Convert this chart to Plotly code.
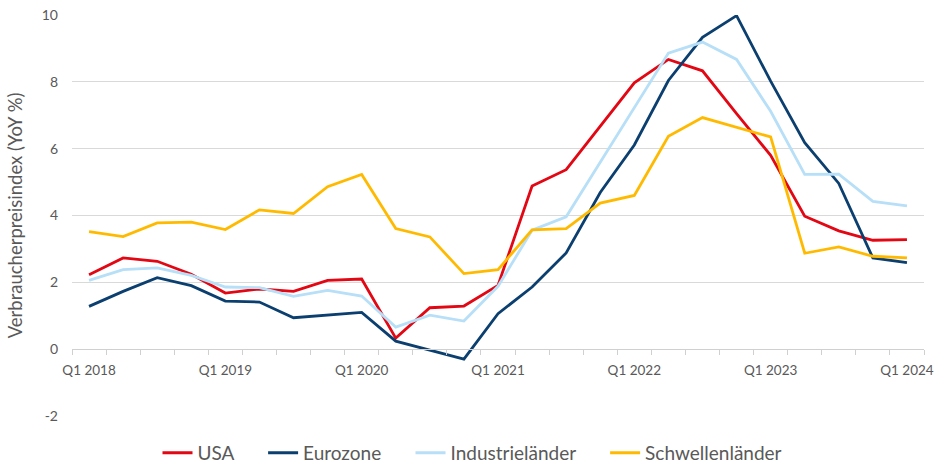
import plotly.graph_objects as go

categories = [f"Q{q} {y}" for y in range(2018, 2025) for q in range(1, 5)][:25]
tick_labels = ["Q1 2018", "Q1 2019", "Q1 2020", "Q1 2021", "Q1 2022", "Q1 2023", "Q1 2024"]
y_ticks = [-2, 0, 2, 4, 6, 8, 10]

usa = [2.23, 2.73, 2.63, 2.24, 1.68, 1.80, 1.73, 2.06, 2.10, 0.33, 1.24, 1.29,
       1.91, 4.88, 5.37, 6.67, 7.97, 8.67, 8.33, 7.05, 5.80, 3.98, 3.54, 3.26, 3.28]
eurozone = [1.28, 1.73, 2.14, 1.90, 1.44, 1.41, 0.94, 1.01, 1.10, 0.24, -0.02, -0.30,
            1.06, 1.86, 2.88, 4.69, 6.11, 8.04, 9.33, 9.98, 8.02, 6.18, 4.96, 2.73, 2.59]
industrie = [2.06, 2.38, 2.43, 2.21, 1.86, 1.84, 1.58, 1.76, 1.59, 0.66, 1.02, 0.84,
             1.88, 3.56, 3.96, 5.58, 7.20, 8.86, 9.19, 8.67, 7.12, 5.23, 5.24, 4.42, 4.29]
schwellen = [3.52, 3.37, 3.78, 3.80, 3.58, 4.17, 4.06, 4.86, 5.23, 3.61, 3.36, 2.26,
             2.38, 3.57, 3.61, 4.37, 4.60, 6.37, 6.93, 6.65, 6.35, 2.87, 3.06, 2.78, 2.73]

series = [
    ("USA", usa, "#E30613"),
    ("Eurozone", eurozone, "#0B3F6F"),
    ("Industrieländer", industrie, "#B7DFF7"),
    ("Schwellenländer", schwellen, "#FFBA00"),
]

pad = "\u00a0" * 5
fig = go.Figure()
for i, (name, vals, color) in enumerate(series):
    label = name + (pad if i < len(series) - 1 else "")
    fig.add_trace(go.Scatter(x=categories, y=vals, name=label, mode="lines",
                             line=dict(color=color, width=2.8)))

ticktext = [c if c in tick_labels else "" for c in categories]
font_family = "Lato, Open Sans, sans-serif"
gray = "#595959"

fig.update_layout(
    width=945, height=468,
    margin=dict(l=72, r=21, t=15, b=52, autoexpand=False),
    paper_bgcolor="white", plot_bgcolor="white",
    font=dict(family=font_family, color=gray),
    showlegend=True,
    legend=dict(orientation="h", xref="container", yref="paper",
                x=0.5, xanchor="center", y=-0.092, yanchor="middle",
                font=dict(size=19, color=gray), itemwidth=30,
                traceorder="normal"),
    xaxis=dict(type="category", categoryorder="array", categoryarray=categories,
               range=[-0.5, len(categories) - 0.5],
               tickmode="array", tickvals=categories, ticktext=ticktext,
               tickson="boundaries", ticks="outside", ticklen=5, tickangle=0,
               tickcolor="#D0D0D0", showgrid=False, showline=True,
               linecolor="#D0D0D0", linewidth=1.3, anchor="free",
               position=2 / 12, tickfont=dict(size=13.5, color=gray),
               ticklabelstandoff=8, zeroline=False, automargin=False),
    yaxis=dict(range=[-2, 10], tickmode="array", tickvals=y_ticks,
               ticktext=[str(v) for v in y_ticks], showgrid=True,
               gridcolor="#D9D9D9", gridwidth=1.3, zeroline=False,
               showline=False, ticks="", tickfont=dict(size=14, color=gray),
               ticklabelstandoff=13, automargin=False,
               title=dict(text="Verbraucherpreisindex (YoY %)",
                          font=dict(size=18.5, color=gray), standoff=14)),
)

fig.write_html("out.html", config={"displayModeBar": False},
               post_script="document.body.style.margin='0';document.body.style.overflow='hidden';")
